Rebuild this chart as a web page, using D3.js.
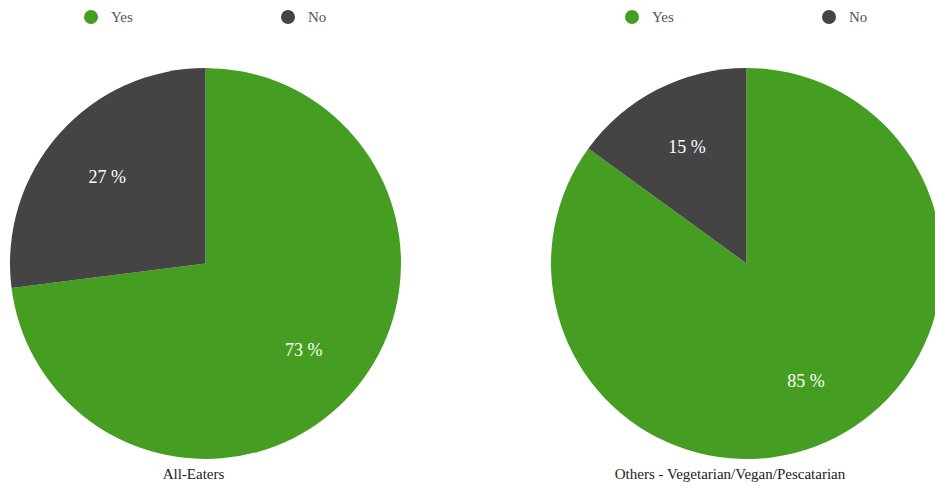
<!DOCTYPE html>
<html>
<head>
<meta charset="utf-8">
<script src="https://cdn.jsdelivr.net/npm/d3@7"></script>
<style>
  body { margin: 0; background: #fff; }
  svg text { font-family: "Liberation Serif", "DejaVu Serif", "Times New Roman", serif; }
</style>
</head>
<body>
<div class="chart"></div>
<script>
var width = 935, height = 486;

// data
var answers = ["Yes", "No"];
var groups = ["All-Eaters", "Others - Vegetarian/Vegan/Pescatarian"];
var allEaters = [73, 27];
var others = [85, 15];
var colors = ["#459e22", "#444444"];

var svg = d3.select(".chart").append("svg")
    .attr("width", width)
    .attr("height", height);

var color = d3.scaleOrdinal().domain(answers).range(colors);

var panels = [
    {name: groups[0], values: allEaters, cx: 205.5, legendX: 91, labelX: 193.5},
    {name: groups[1], values: others, cx: 746.5, legendX: 632, labelX: 730}
];

var radius = 195.5, cy = 263.5;

var pie = d3.pie().sort(null).value(d => d.value);
var arc = d3.arc().innerRadius(0).outerRadius(radius);
var labelArc = d3.arc().innerRadius(radius * 0.67).outerRadius(radius * 0.67);

panels.forEach(p => {
    var data = answers.map((a, i) => ({answer: a, value: p.values[i]}));

    var g = svg.append("g")
        .attr("transform", "translate(" + p.cx + "," + cy + ")");

    g.selectAll("path")
        .data(pie(data))
        .join("path")
        .attr("d", arc)
        .attr("fill", d => color(d.data.answer));

    g.selectAll("text")
        .data(pie(data))
        .join("text")
        .attr("transform", d => "translate(" + labelArc.centroid(d) + ")")
        .attr("text-anchor", "middle")
        .attr("dy", "0.35em")
        .attr("fill", "#fff")
        .style("font-size", "18px")
        .text(d => d.data.value + " %");

    // legend
    var legend = svg.append("g");
    answers.forEach((a, i) => {
        var x = p.legendX + i * 197;
        legend.append("circle")
            .attr("cx", x)
            .attr("cy", 17)
            .attr("r", 7)
            .attr("fill", color(a));
        legend.append("text")
            .attr("x", x + 20)
            .attr("y", 17)
            .attr("dy", "0.35em")
            .attr("fill", "#555")
            .style("font-size", "15px")
            .text(a);
    });

    // group label
    svg.append("text")
        .attr("x", p.labelX)
        .attr("y", 479)
        .attr("text-anchor", "middle")
        .attr("fill", "#222")
        .style("font-size", "15px")
        .text(p.name);
});
</script>
</body>
</html>
